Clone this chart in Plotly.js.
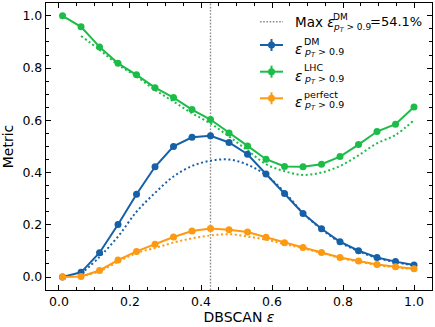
<!DOCTYPE html>
<html>
<head>
<meta charset="utf-8">
<script src="https://cdn.plot.ly/plotly-3.0.1.min.js"></script>
<style>html,body{margin:0;padding:0;background:#fff;}#chart{width:435px;height:327px;}</style>
</head>
<body>
<div id="chart"></div>
<script>
// DBSCAN epsilon values (20 points)
const eps = [0.01, 0.0621, 0.1142, 0.1663, 0.2184, 0.2705, 0.3226, 0.3747, 0.4268, 0.4789,
             0.5311, 0.5832, 0.6353, 0.6874, 0.7395, 0.7916, 0.8437, 0.8958, 0.9479, 1.0];
// Solid series
const effDM      = [0.000, 0.018, 0.093, 0.201, 0.317, 0.422, 0.500, 0.535, 0.541, 0.515,
                    0.470, 0.394, 0.320, 0.243, 0.185, 0.135, 0.101, 0.075, 0.059, 0.046];
const effLHC     = [1.000, 0.958, 0.881, 0.818, 0.774, 0.725, 0.687, 0.641, 0.603, 0.551,
                    0.502, 0.451, 0.423, 0.422, 0.432, 0.461, 0.507, 0.557, 0.585, 0.651];
const effPerfect = [0.000, 0.002, 0.025, 0.065, 0.098, 0.125, 0.153, 0.176, 0.186, 0.181,
                    0.172, 0.152, 0.131, 0.113, 0.094, 0.075, 0.061, 0.048, 0.039, 0.032];
// Dotted series (start at second epsilon value)
const epsDot = eps.slice(1);
const dotDM      = [0.012, 0.077, 0.155, 0.250, 0.322, 0.385, 0.425, 0.445, 0.450,
                    0.430, 0.390, 0.325, 0.245, 0.183, 0.133, 0.099, 0.073, 0.057, 0.044];
const dotLHC     = [0.923, 0.870, 0.813, 0.768, 0.716, 0.672, 0.627, 0.588, 0.538,
                    0.485, 0.432, 0.405, 0.391, 0.400, 0.425, 0.466, 0.512, 0.544, 0.601];
const dotPerfect = [0.002, 0.022, 0.058, 0.092, 0.111, 0.132, 0.148, 0.159, 0.164,
                    0.155, 0.143, 0.126, 0.110, 0.092, 0.073, 0.059, 0.046, 0.037, 0.030];
const bestEps = 0.4268;
const maxDM = '54.1%';
const supLabels = ['DM', 'LHC', 'perfect'];
const subLabel = '<i>p</i><sub><i>T</i></sub> > 0.9';
const xTitle = 'DBSCAN <i>ε</i>';
const yTitle = 'Metric';

const cBlue = '#1660a8', cGreen = '#1bbd48', cOrange = '#fd9a12';
const colors = [cBlue, cGreen, cOrange];
const F = 'DejaVu Sans, sans-serif';
const dotted = '2px,2.6px';

const traces = [
  {x:epsDot, y:dotDM, mode:'lines', line:{color:cBlue, dash:dotted, width:2, shape:'spline'}},
  {x:epsDot, y:dotLHC, mode:'lines', line:{color:cGreen, dash:dotted, width:2, shape:'spline'}},
  {x:epsDot, y:dotPerfect, mode:'lines', line:{color:cOrange, dash:dotted, width:2, shape:'spline'}},
  {x:eps, y:effDM, mode:'lines+markers', line:{color:cBlue, width:2}, marker:{color:cBlue, size:7}},
  {x:eps, y:effLHC, mode:'lines+markers', line:{color:cGreen, width:2}, marker:{color:cGreen, size:7}},
  {x:eps, y:effPerfect, mode:'lines+markers', line:{color:cOrange, width:2}, marker:{color:cOrange, size:7}}
];

// ---- manual legend (pixel geometry converted to paper coords) ----
const M = {l:46, r:3, t:3, b:37}, W = 435, H = 327;
const pw = W - M.l - M.r, ph = H - M.t - M.b;
const px = v => (v - M.l) / pw;
const py = v => (H - M.b - v) / ph;

const shapes = [{type:'line', xref:'x', yref:'paper', x0:bestEps, x1:bestEps, y0:0, y1:1,
                 line:{color:'#8c8c8c', width:1.4, dash:'1.6px,1.6px'}, layer:'below'}];
const ann = [];
const hx0 = 260, hx1 = 283, hxm = 271.5, tx = 293;
// Max row
const y0 = 21.7;
shapes.push({type:'line', xref:'paper', yref:'paper', x0:px(hx0), x1:px(hx1), y0:py(y0), y1:py(y0),
             line:{color:'#8c8c8c', width:1.4, dash:'1.6px,1.6px'}});
const A = (x, y, text, size) => ann.push({xref:'paper', yref:'paper', x:px(x), y:py(y), text:text,
             showarrow:false, xanchor:'left', yanchor:'middle', font:{family:F, size:size, color:'#000'}});
A(tx, y0, 'Max <i>ε</i>', 13.5);
A(331, y0 - 5, 'DM', 9);
A(331, y0 + 6, subLabel, 9);
A(368, y0, '=' + maxDM, 13);
// series rows
const rows = [45, 71.7, 98.3];
rows.forEach((m, i) => {
  const c = colors[i];
  shapes.push({type:'line', xref:'paper', yref:'paper', x0:px(hx0), x1:px(hx1), y0:py(m), y1:py(m),
               line:{color:c, width:2}});
  shapes.push({type:'line', xref:'paper', yref:'paper', x0:px(hxm), x1:px(hxm), y0:py(m - 6), y1:py(m + 6),
               line:{color:c, width:2}});
  shapes.push({type:'circle', xref:'paper', yref:'paper', x0:px(hxm - 3.5), x1:px(hxm + 3.5),
               y0:py(m - 3.5), y1:py(m + 3.5), fillcolor:c, line:{color:c, width:0}});
  A(tx, m + 4, '<i>ε</i>', 13.5);
  A(302, m - 4, supLabels[i], 9.5);
  A(302, m + 7.5, subLabel, 9.5);
});

const axCommon = {
  showline:true, linecolor:'#000', linewidth:1.2, mirror:'allticks',
  ticks:'inside', ticklen:5, tickwidth:1, tickcolor:'#000',
  showgrid:false, zeroline:false,
  tickfont:{family:F, size:12.5, color:'#000'},
  minor:{ticks:'inside', ticklen:3, tickwidth:1, tickcolor:'#000', dtick:0.05, showgrid:false}
};

const layout = {
  width:W, height:H,
  margin:M,
  paper_bgcolor:'#fff', plot_bgcolor:'#fff',
  font:{family:F, size:12, color:'#000'},
  showlegend:false,
  xaxis:Object.assign({}, axCommon, {range:[-0.0366, 1.0507], dtick:0.2, tick0:0, tickformat:'.1f',
        title:{text:xTitle, font:{family:F, size:14}, standoff:3}}),
  yaxis:Object.assign({}, axCommon, {range:[-0.0497, 1.0491], dtick:0.2, tick0:0, tickformat:'.1f',
        title:{text:yTitle, font:{family:F, size:14}, standoff:5}}),
  shapes:shapes,
  annotations:ann
};

Plotly.newPlot('chart', traces, layout, {displayModeBar:false, staticPlot:true});
</script>
</body>
</html>
